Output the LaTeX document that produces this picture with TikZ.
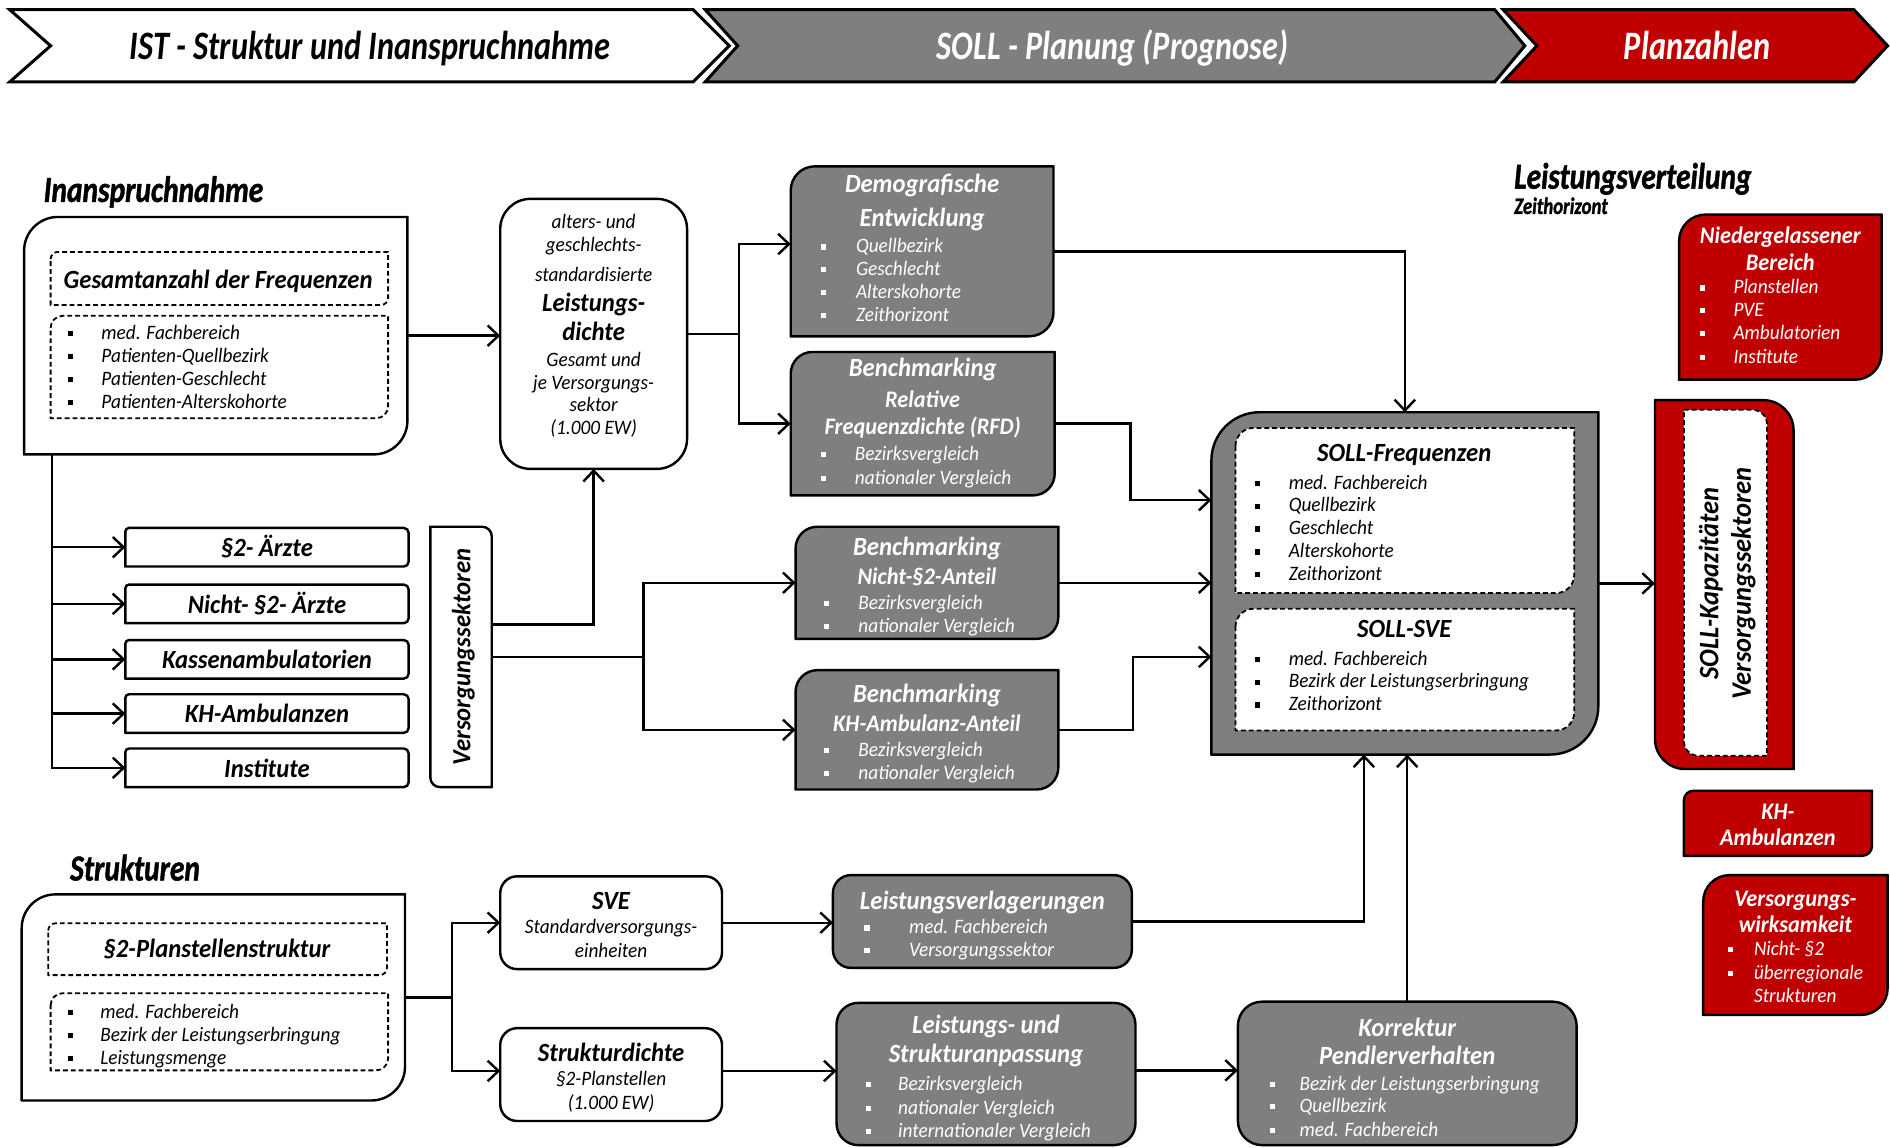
\documentclass[tikz,border=0pt]{standalone}
\usepackage{fontspec}
\setmainfont{Carlito}[FakeStretch=0.94]
\newfontfamily\hdfont{Carlito}[FakeStretch=0.8]
\newfontfamily\secfont{Carlito}[FakeStretch=0.8,FakeBold=1.2]
\usetikzlibrary{arrows.meta,calc}
\definecolor{gr}{HTML}{7F7F7F}
\definecolor{rd}{HTML}{C00000}
\newcommand\bl{\rule[0.16em]{0.25em}{0.25em}}
\newcommand\nb[5]{\node[inner sep=0,outer sep=0,minimum width={#4pt-#2pt},minimum height={#5pt-#3pt},anchor=north west] (#1) at (#2,#3) {};}
\newcommand\cbox[6]{\draw[#2] ([yshift=-#3]#1.north west) arc[start angle=180,end angle=90,radius=#3] -- ([xshift=-#4]#1.north east) arc[start angle=90,end angle=0,radius=#4] -- ([yshift=#5]#1.south east) arc[start angle=0,end angle=-90,radius=#5] -- ([xshift=#6]#1.south west) arc[start angle=270,end angle=180,radius=#6] -- cycle;}
\newcommand\bit[6]{\node[itm,#6] (#1) at (#2,#3) {\makebox[#4pt][l]{\bl}#5};}
\begin{document}
\begin{tikzpicture}[x=1pt,y=-1pt,
  arr/.style={line width=2pt,-{Straight Barb[length=9pt,width=17pt,line width=2pt]}},
  ln/.style={line width=2pt},
  wbox/.style={draw=black,line width=2pt,fill=white},
  gbox/.style={draw=black,line width=2pt,fill=gr},
  rbox/.style={draw=black,line width=2pt,fill=rd},
  dbox/.style={draw=black,line width=1.5pt,dash pattern=on 4pt off 2.5pt,fill=white},
  t/.style={inner sep=0,text depth=0pt},
  ttl/.style={t,text height=15.5pt,font=\fontsize{21.8}{25}\selectfont\bfseries\itshape},
  sub/.style={t,text height=14.5pt,font=\fontsize{19.7}{23}\selectfont\bfseries\itshape},
  itc/.style={t,text height=13.5pt,font=\fontsize{17}{20}\selectfont\itshape},
  itm/.style={itc,anchor=west},
  w/.style={text=white},
  hdr/.style={t,text height=23pt,font=\hdfont\fontsize{33.5}{36}\selectfont\bfseries\itshape},
  sec/.style={t,text height=19pt,anchor=west,font=\secfont\fontsize{30.5}{34}\selectfont\bfseries\itshape}]
\useasboundingbox (0,0) rectangle (1568,952);
% ---------- header chevrons
\draw[line width=2.5pt,fill=white] (8,8) -- (575,8) -- (605,38) -- (575,68) -- (8,68) -- (42,38) -- cycle;
\node[hdr] (h1) at (307,38) {IST - Struktur und Inanspruchnahme};
\draw[line width=2.5pt,fill=gr] (585,8) -- (1240,8) -- (1265,38) -- (1240,68) -- (585,68) -- (612,38) -- cycle;
\node[hdr,w] (h2) at (923,38) {SOLL - Planung (Prognose)};
\draw[line width=2.5pt,fill=rd] (1247,8) -- (1538,8) -- (1566,38) -- (1538,68) -- (1247,68) -- (1275,38) -- cycle;
\node[hdr,w] (h3) at (1408,38) {Planzahlen};
% ---------- section headings
\node[sec] (s1) at (36,158) {Inanspruchnahme};
\node[sec] (s2) at (58,721) {Strukturen};
\node[sec] (s3) at (1256,147) {Leistungsverteilung};
\node[sec,text height=13pt,font=\secfont\fontsize{19.5}{22}\selectfont\bfseries\itshape] (s4) at (1256,171) {Zeithorizont};
% ---------- Inanspruchnahme box
\nb{ib}{20}{180}{338}{377}\cbox{ib}{wbox}{28pt}{0.01pt}{28pt}{0.01pt}
\nb{ibd1}{42}{209}{322}{253}\cbox{ibd1}{dbox}{6pt}{0.01pt}{6pt}{0.01pt}
\nb{ibd2}{42}{262}{322}{347}\cbox{ibd2}{dbox}{10pt}{0.01pt}{10pt}{0.01pt}
\node[ttl] (ibt) at (181,232) {Gesamtanzahl der Frequenzen};
\bit{ib1}{56}{275}{28}{med. Fachbereich}{}
\bit{ib2}{56}{294}{28}{Patienten-Quellbezirk}{}
\bit{ib3}{56}{313}{28}{Patienten-Geschlecht}{}
\bit{ib4}{56}{332}{28}{Patienten-Alterskohorte}{}
% ---------- five boxes
\nb{a1}{104}{438}{339}{470}\cbox{a1}{wbox}{3pt}{4pt}{4pt}{0.01pt}
\nb{a2}{104}{485}{339}{517}\cbox{a2}{wbox}{3pt}{4pt}{4pt}{0.01pt}
\nb{a3}{104}{531}{339}{563}\cbox{a3}{wbox}{3pt}{4pt}{4pt}{0.01pt}
\nb{a4}{104}{576}{339}{608}\cbox{a4}{wbox}{3pt}{4pt}{4pt}{0.01pt}
\nb{a5}{104}{621}{339}{653}\cbox{a5}{wbox}{3pt}{4pt}{4pt}{0.01pt}
\node[ttl] (a1t) at (221.5,454) {§2- Ärzte};
\node[ttl] (a2t) at (221.5,501) {Nicht- §2- Ärzte};
\node[ttl] (a3t) at (221.5,547) {Kassenambulatorien};
\node[ttl] (a4t) at (221.5,592) {KH-Ambulanzen};
\node[ttl] (a5t) at (221.5,637) {Institute};
% ---------- Versorgungssektoren
\nb{vs}{357}{437}{408}{653}\cbox{vs}{wbox}{0.01pt}{8pt}{0.01pt}{8pt}
\node[ttl,rotate=90] (vst) at (382.5,545) {Versorgungssektoren};
% ---------- Leistungsdichte
\nb{ld}{415}{165}{570}{389}\cbox{ld}{wbox}{25pt}{25pt}{25pt}{25pt}
\node[itc] (ld1) at (492.5,183) {alters- und};
\node[itc] (ld2) at (492.5,202) {geschlechts-};
\node[itc] (ld3) at (492.5,227) {standardisierte};
\node[ttl] (ld4) at (492.5,251) {Leistungs-};
\node[ttl] (ld5) at (492.5,275) {dichte};
\node[itc] (ld6) at (492.5,297) {Gesamt und};
\node[itc] (ld7) at (492.5,316) {je Versorgungs-};
\node[itc] (ld8) at (492.5,335) {sektor};
\node[itc] (ld9) at (492.5,354) {(1.000 EW)};
% ---------- Demografische Entwicklung
\nb{de}{656}{138}{874}{279}\cbox{de}{gbox}{20pt}{0.01pt}{20pt}{0.01pt}
\node[ttl,w] (de0) at (765,152) {Demografische};
\node[ttl,w] (de00) at (765,180) {Entwicklung};
\bit{de1}{681}{203}{29}{Quellbezirk}{w}
\bit{de2}{681}{222}{29}{Geschlecht}{w}
\bit{de3}{681}{241}{29}{Alterskohorte}{w}
\bit{de4}{681}{260}{29}{Zeithorizont}{w}
% ---------- Benchmarking RFD
\nb{rfd}{656}{292}{875}{411}\cbox{rfd}{gbox}{18pt}{0.01pt}{18pt}{0.01pt}
\node[ttl,w] (rf0) at (765.5,305) {Benchmarking};
\node[sub,w] (rf00) at (765.5,331) {Relative};
\node[sub,w] (rf000) at (765.5,353) {Frequenzdichte (RFD)};
\bit{rf1}{681}{375}{28}{Bezirksvergleich}{w}
\bit{rf2}{681}{395}{28}{nationaler Vergleich}{w}
% ---------- Benchmarking Nicht-§2
\nb{ns}{660}{437}{878}{530}\cbox{ns}{gbox}{18pt}{0.01pt}{18pt}{0.01pt}
\node[ttl,w] (ns0) at (769,453) {Benchmarking};
\node[sub,w] (ns00) at (769,478) {Nicht-§2-Anteil};
\bit{ns1}{683}{499}{29}{Bezirksvergleich}{w}
\bit{ns2}{683}{518}{29}{nationaler Vergleich}{w}
% ---------- Benchmarking KH
\nb{kha}{660}{556}{878}{655}\cbox{kha}{gbox}{18pt}{0.01pt}{18pt}{0.01pt}
\node[ttl,w] (kh0) at (769,575) {Benchmarking};
\node[sub,w] (kh00) at (769,600) {KH-Ambulanz-Anteil};
\bit{kh1}{683}{621}{29}{Bezirksvergleich}{w}
\bit{kh2}{683}{640}{29}{nationaler Vergleich}{w}
% ---------- SOLL box
\nb{soll}{1005}{342}{1326}{626}\cbox{soll}{gbox}{40pt}{0.01pt}{40pt}{0.01pt}
\nb{sf}{1025}{355}{1306}{492}\cbox{sf}{dbox}{15pt}{0.01pt}{15pt}{0.01pt}
\nb{ss}{1025}{505}{1306}{606}\cbox{ss}{dbox}{15pt}{0.01pt}{15pt}{0.01pt}
\node[ttl] (sf0) at (1165,375) {SOLL-Frequenzen};
\bit{sf1}{1041}{399}{28}{med. Fachbereich}{}
\bit{sf2}{1041}{418}{28}{Quellbezirk}{}
\bit{sf3}{1041}{437}{28}{Geschlecht}{}
\bit{sf4}{1041}{456}{28}{Alterskohorte}{}
\bit{sf5}{1041}{475}{28}{Zeithorizont}{}
\node[ttl] (ss0) at (1165,521) {SOLL-SVE};
\bit{ss1}{1041}{545}{28}{med. Fachbereich}{}
\bit{ss2}{1041}{564}{28}{Bezirk der Leistungserbringung}{}
\bit{ss3}{1041}{583}{28}{Zeithorizont}{}
% ---------- SOLL-Kapazitaeten
\nb{sk}{1373}{332}{1488}{638}\cbox{sk}{rbox}{0.01pt}{25pt}{0.01pt}{25pt}
\nb{skd}{1397}{340}{1466}{627}\cbox{skd}{dbox}{0.01pt}{12pt}{0.01pt}{12pt}
\node[t,rotate=90,text height=16pt,font=\fontsize{23.4}{27}\selectfont\bfseries\itshape] (skt1) at (1417.5,484) {SOLL-Kapazitäten};
\node[t,rotate=90,text height=16pt,font=\fontsize{23.4}{27}\selectfont\bfseries\itshape] (skt2) at (1444.5,484) {Versorgungssektoren};
% ---------- red boxes
\nb{nbx}{1393}{178}{1561}{315}\cbox{nbx}{rbox}{22pt}{0.01pt}{22pt}{0.01pt}
\node[sub,w] (nb0) at (1477,195) {Niedergelassener};
\node[sub,w] (nb00) at (1477,217) {Bereich};
\bit{nb1}{1410}{237}{28}{Planstellen}{w}
\bit{nb2}{1410}{256}{28}{PVE}{w}
\bit{nb3}{1410}{275}{28}{Ambulatorien}{w}
\bit{nb4}{1410}{295}{28}{Institute}{w}
\nb{khr}{1397}{656}{1553}{710}\cbox{khr}{rbox}{8pt}{0.01pt}{8pt}{0.01pt}
\node[sub,w] (khr0) at (1475,673) {KH-};
\node[sub,w] (khr00) at (1475,694) {Ambulanzen};
\nb{vw}{1413}{726}{1566}{842}\cbox{vw}{rbox}{22pt}{0.01pt}{22pt}{0.01pt}
\node[sub,w] (vw0) at (1489.5,745) {Versorgungs-};
\node[sub,w] (vw00) at (1489.5,766) {wirksamkeit};
\bit{vw1}{1433}{786}{22}{Nicht- §2}{w}
\bit{vw2}{1433}{806}{22}{überregionale}{w}
\node[itm,w] (vw3) at (1455,825) {Strukturen};
% ---------- Strukturen box
\nb{sb}{18}{742}{336}{913}\cbox{sb}{wbox}{28pt}{0.01pt}{28pt}{0.01pt}
\nb{sbd1}{40}{766}{321}{809}\cbox{sbd1}{dbox}{6pt}{0.01pt}{6pt}{0.01pt}
\nb{sbd2}{42}{824}{322}{888}\cbox{sbd2}{dbox}{10pt}{0.01pt}{10pt}{0.01pt}
\node[ttl] (sbt) at (180,787) {§2-Planstellenstruktur};
\bit{sb1}{56}{838}{27}{med. Fachbereich}{}
\bit{sb2}{56}{857}{27}{Bezirk der Leistungserbringung}{}
\bit{sb3}{56}{876}{27}{Leistungsmenge}{}
% ---------- SVE, Strukturdichte
\nb{sve}{415}{727}{599}{804}\cbox{sve}{wbox}{14pt}{14pt}{14pt}{14pt}
\node[ttl] (sv0) at (507,747) {SVE};
\node[itc] (sv1) at (507,768) {Standardversorgungs-};
\node[itc] (sv2) at (507,788) {einheiten};
\nb{sd}{415}{853}{599}{930}\cbox{sd}{wbox}{14pt}{14pt}{14pt}{14pt}
\node[ttl] (sd0) at (507,873) {Strukturdichte};
\node[itc] (sd1) at (507,894) {§2-Planstellen};
\node[itc] (sd2) at (507,914) {(1.000 EW)};
% ---------- Leistungsverlagerungen
\nb{lv}{691}{726}{939}{803}\cbox{lv}{gbox}{15pt}{15pt}{15pt}{15pt}
\node[ttl,w] (lv0) at (815,747) {Leistungsverlagerungen};
\bit{lv1}{717}{768}{37}{med. Fachbereich}{w}
\bit{lv2}{717}{787}{37}{Versorgungssektor}{w}
% ---------- Leistungs- und Strukturanpassung
\nb{lsa}{694}{832}{942}{950}\cbox{lsa}{gbox}{18pt}{18pt}{18pt}{18pt}
\node[ttl,w] (ls0) at (818,850) {Leistungs- und};
\node[ttl,w] (ls00) at (818,874) {Strukturanpassung};
\bit{ls1}{718}{898}{27}{Bezirksvergleich}{w}
\bit{ls2}{718}{918}{27}{nationaler Vergleich}{w}
\bit{ls3}{718}{937}{27}{internationaler Vergleich}{w}
% ---------- Korrektur
\nb{kp}{1027}{831}{1308}{950}\cbox{kp}{gbox}{20pt}{20pt}{20pt}{20pt}
\node[ttl,w] (kp0) at (1167.5,852) {Korrektur};
\node[ttl,w] (kp00) at (1167.5,875) {Pendlerverhalten};
\bit{kp1}{1053}{898}{25}{Bezirk der Leistungserbringung}{w}
\bit{kp2}{1053}{916}{25}{Quellbezirk}{w}
\bit{kp3}{1053}{936}{25}{med. Fachbereich}{w}
% ---------- connectors
\foreach \n in {a1,a2,a3,a4,a5} \draw[arr] ([xshift=23pt]ib.south west) |- (\n.west);
\draw[arr] (ib.east) -- (ib.east -| ld.west);
\draw[arr] (ld.east) -- ++(43,0) |- ([yshift=6pt]de.west);
\draw[arr] (ld.east) -- ++(43,0) |- (rfd.west);
\draw[arr] (de.east) -| (soll.north);
\draw[arr] (rfd.east) -- ++(63,0) |- ([yshift=69pt]soll.west);
\draw[arr] (ns.east) -- (ns.east -| soll.west);
\draw[arr] (kha.east) -- ++(62,0) |- ([yshift=-61pt]soll.west);
\draw[arr] (soll.east) -- (soll.east -| sk.west);
\draw[arr] ([yshift=27pt]vs.east) -| (ld.south);
\draw[arr] (vs.east) -- ++(126,0) |- (ns.west);
\draw[arr] (vs.east) -- ++(126,0) |- (kha.west);
\draw[arr] (sb.east) -- ++(39,0) |- (sve.west);
\draw[arr] (sb.east) -- ++(39,0) |- ([yshift=3pt]sd.west);
\draw[arr] (sve.east) -- (sve.east -| lv.west);
\draw[arr] (lv.east) -| ([xshift=-34pt]soll.south);
\draw[arr] ([yshift=3pt]sd.east) -- ([yshift=3pt]sd.east -| lsa.west);
\draw[arr] ([yshift=3pt]lsa.east) -- ([yshift=3pt]lsa.east -| kp.west);
\draw[arr] (kp.north) -- (kp.north |- soll.south);
\end{tikzpicture}
\end{document}
